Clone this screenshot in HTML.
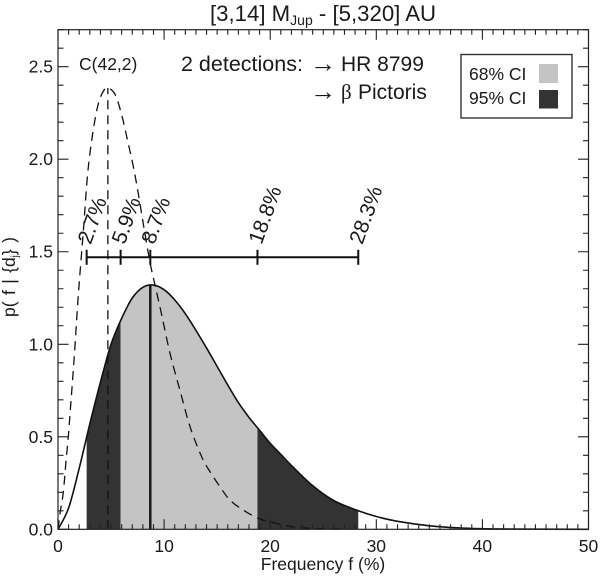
<!DOCTYPE html>
<html>
<head>
<meta charset="utf-8">
<title>Frequency posterior</title>
<style>
html,body{margin:0;padding:0;background:#fff;width:600px;height:578px;overflow:hidden}
svg{display:block;font-family:"Liberation Sans",sans-serif;fill:#111}
text{fill:#1a1a1a}
</style>
</head>
<body>
<svg id="chart" width="600" height="578" viewBox="0 0 600 578" xmlns="http://www.w3.org/2000/svg">
  <defs><clipPath id="area-clip"><path id="area-path" d=""></path></clipPath></defs>
  <g id="marks"></g>
  <g id="axes"></g>
  <text x="210" y="21" font-size="22.2">[3,14] M<tspan font-size="14" dy="4">Jup</tspan><tspan dy="-4"> - [5,320] AU</tspan></text>
  <text x="79" y="70" font-size="17.5">C(42,2)</text>
  <text x="181" y="71" font-size="21.5">2 detections:</text>
  <text x="310" y="72" font-size="26">→<tspan x="341" y="71" font-size="21">HR 8799</tspan></text>
  <text x="310" y="100" font-size="26">→<tspan x="341" y="99" font-size="21" font-family="'Liberation Serif',serif">β</tspan><tspan x="358" font-size="21">Pictoris</tspan></text>
  <g>
    <rect x="461" y="54.5" width="111" height="63.5" fill="#fff" stroke="#333" stroke-width="1.4"></rect>
    <text x="469" y="80" font-size="17.5">68% CI</text>
    <rect x="539" y="64" width="19" height="19" fill="#c4c4c4"></rect>
    <text x="469" y="104" font-size="17.5">95% CI</text>
    <rect x="539" y="90" width="19" height="18.5" fill="#333"></rect>
  </g>
  <text x="323" y="570" font-size="17.5" text-anchor="middle">Frequency f (%)</text>
  <text transform="translate(15,277) rotate(-90)" font-size="17.5" word-spacing="1.5" text-anchor="middle">p( f | {d<tspan font-size="10" dy="3">j</tspan><tspan dy="-3">} )</tspan></text>
</svg>
<script>
const posteriorF = [0,1,2,3,4,5,6,7,8,9,10,11,12,13,14,15,16,17,18,19,20,21,22,24,26,28.3,30,32,35,38,41,50];
const posteriorP = [0,0.115,0.33,0.57,0.795,1.0,1.14,1.25,1.308,1.32,1.295,1.24,1.165,1.075,0.98,0.88,0.78,0.685,0.605,0.535,0.465,0.405,0.345,0.236,0.155,0.1,0.069,0.043,0.019,0.007,0.002,0];
const priorF = [0,0.2,0.5,0.75,0.97,1.13,1.51,1.92,2.4,2.8,3.3,3.8,4.3,4.7,5.38,6,6.6,7.1,7.55,8.1,8.68,9.3,9.77,10.56,11.5,12.44,13.54,14.33,15.27,16.2,17.46,18.88,20.3,22,24,27];
const priorP = [0,0.09,0.2,0.365,0.5,0.62,0.915,1.27,1.62,1.925,2.15,2.3,2.37,2.385,2.35,2.24,2.09,1.96,1.82,1.63,1.44,1.28,1.16,0.95,0.75,0.555,0.392,0.311,0.23,0.158,0.104,0.059,0.036,0.014,0.005,0];
const priorMode = 4.7;
const priorModeValue = 2.385;
const credibleBounds = [2.7,5.9,8.7,18.8,28.3];
const credibleLabels = ["2.7%","5.9%","8.7%","18.8%","28.3%"];
const medianF = 8.7;
const medianP = 1.32;
const barLevel = 1.47;
const xTickLabels = ["0","10","20","30","40","50"];
const xTickValues = [0,10,20,30,40,50];
const yTickLabels = ["0.0","0.5","1.0","1.5","2.0","2.5"];
const yTickValues = [0,0.5,1,1.5,2,2.5];

const X0 = 58, X1 = 588.5, Y0 = 529.3, Y1 = 29.7;
const XMAX = 50, YMAX = 2.7;
function sx(v){ return X0 + v / XMAX * (X1 - X0); }
function sy(v){ return Y0 - v / YMAX * (Y0 - Y1); }
const NS = 'http://www.w3.org/2000/svg';
const marks = document.getElementById('marks');
const axes = document.getElementById('axes');
function make(tag, parent, attrs){
  const el = document.createElementNS(NS, tag);
  for (const k in attrs) el.setAttribute(k, attrs[k]);
  parent.appendChild(el);
  return el;
}
function curvePath(xs, ys){
  const px = xs.map(sx), py = ys.map(sy), n = xs.length;
  let d = 'M' + px[0].toFixed(2) + ' ' + py[0].toFixed(2);
  for (let i = 0; i < n - 1; i++){
    const a = Math.max(i - 1, 0), b = Math.min(i + 2, n - 1);
    const c1x = px[i] + (px[i + 1] - px[a]) / 6, c1y = py[i] + (py[i + 1] - py[a]) / 6;
    const c2x = px[i + 1] - (px[b] - px[i]) / 6, c2y = py[i + 1] - (py[b] - py[i]) / 6;
    d += 'C' + c1x.toFixed(2) + ' ' + c1y.toFixed(2) + ' ' + c2x.toFixed(2) + ' ' + c2y.toFixed(2) + ' ' + px[i + 1].toFixed(2) + ' ' + py[i + 1].toFixed(2);
  }
  return d;
}

document.getElementById('area-path').setAttribute('d', curvePath(posteriorF, posteriorP) + 'L' + sx(XMAX) + ' ' + sy(0) + 'L' + sx(0) + ' ' + sy(0) + 'Z');
const regions = marks.appendChild(document.createElementNS(NS, 'g'));
regions.setAttribute('clip-path', 'url(#area-clip)');



const dark1 = make('rect', regions, {x: sx(credibleBounds[0]), y: sy(YMAX), width: sx(credibleBounds[1]) - sx(credibleBounds[0]), height: Y0 - Y1, fill: '#333'});


const light = make('rect', regions, {x: sx(credibleBounds[1]), y: sy(YMAX), width: sx(credibleBounds[3]) - sx(credibleBounds[1]), height: Y0 - Y1, fill: '#c4c4c4'});


const dark2 = make('rect', regions, {x: sx(credibleBounds[3]), y: sy(YMAX), width: sx(credibleBounds[4]) - sx(credibleBounds[3]), height: Y0 - Y1, fill: '#333'});



const priorCurve = make('path', marks, {d: curvePath(priorF, priorP), fill: 'none', stroke: '#111', 'stroke-width': 1.3, 'stroke-dasharray': '9 6', 'stroke-linejoin': 'round'});


const priorLine = make('line', marks, {x1: sx(priorMode), x2: sx(priorMode), y1: sy(0), y2: sy(priorModeValue), stroke: '#111', 'stroke-width': 1.3, 'stroke-dasharray': '9 6'});


const posteriorCurve = make('path', marks, {d: curvePath(posteriorF, posteriorP), fill: 'none', stroke: '#111', 'stroke-width': 1.6, 'stroke-linejoin': 'round'});


const medianLine = make('line', marks, {x1: sx(medianF), x2: sx(medianF), y1: sy(0), y2: sy(medianP), stroke: '#111', 'stroke-width': 2.4});



const barY = sy(barLevel);
const bar = make('line', marks, {x1: sx(credibleBounds[0]), x2: sx(credibleBounds[4]), y1: barY, y2: barY, stroke: '#111', 'stroke-width': 2});


credibleBounds.forEach(function(b, i){
  const tick = make('line', marks, {x1: sx(b), x2: sx(b), y1: barY - 7.5, y2: barY + 7.5, stroke: '#111', 'stroke-width': 2});
  
  
  const t = make('text', marks, {transform: 'translate(' + (sx(b) + 4) + ',' + (barY - 12) + ') rotate(-70)', 'font-size': 21});
  t.textContent = credibleLabels[i];
  
  
});

const frame = make('rect', axes, {x: X0, y: Y1, width: X1 - X0, height: Y0 - Y1, fill: 'none', stroke: '#222', 'stroke-width': 1.2});


let tickD = '';
for (let i = 0; i <= XMAX; i++){
  const len = i % 10 === 0 ? 10 : 5;
  tickD += 'M' + sx(i) + ' ' + Y0 + 'v' + (-len) + 'M' + sx(i) + ' ' + Y1 + 'v' + len;
}
for (let i = 0; i <= 27; i++){
  const len = i % 5 === 0 ? 10.5 : 5.5;
  const y = sy(i / 10);
  tickD += 'M' + X0 + ' ' + y + 'h' + len + 'M' + X1 + ' ' + y + 'h' + (-len);
}
const ticks = make('path', axes, {d: tickD, fill: 'none', stroke: '#222', 'stroke-width': 1.1});


xTickValues.forEach(function(v, i){
  const t = make('text', axes, {x: sx(v), y: 552, 'font-size': 17.5, 'text-anchor': 'middle'});
  t.textContent = xTickLabels[i];
  
  
});
yTickValues.forEach(function(v, i){
  const t = make('text', axes, {x: 53, y: sy(v) + 6, 'font-size': 17.5, 'text-anchor': 'end'});
  t.textContent = yTickLabels[i];
  
  
});
</script>
</body>
</html>
